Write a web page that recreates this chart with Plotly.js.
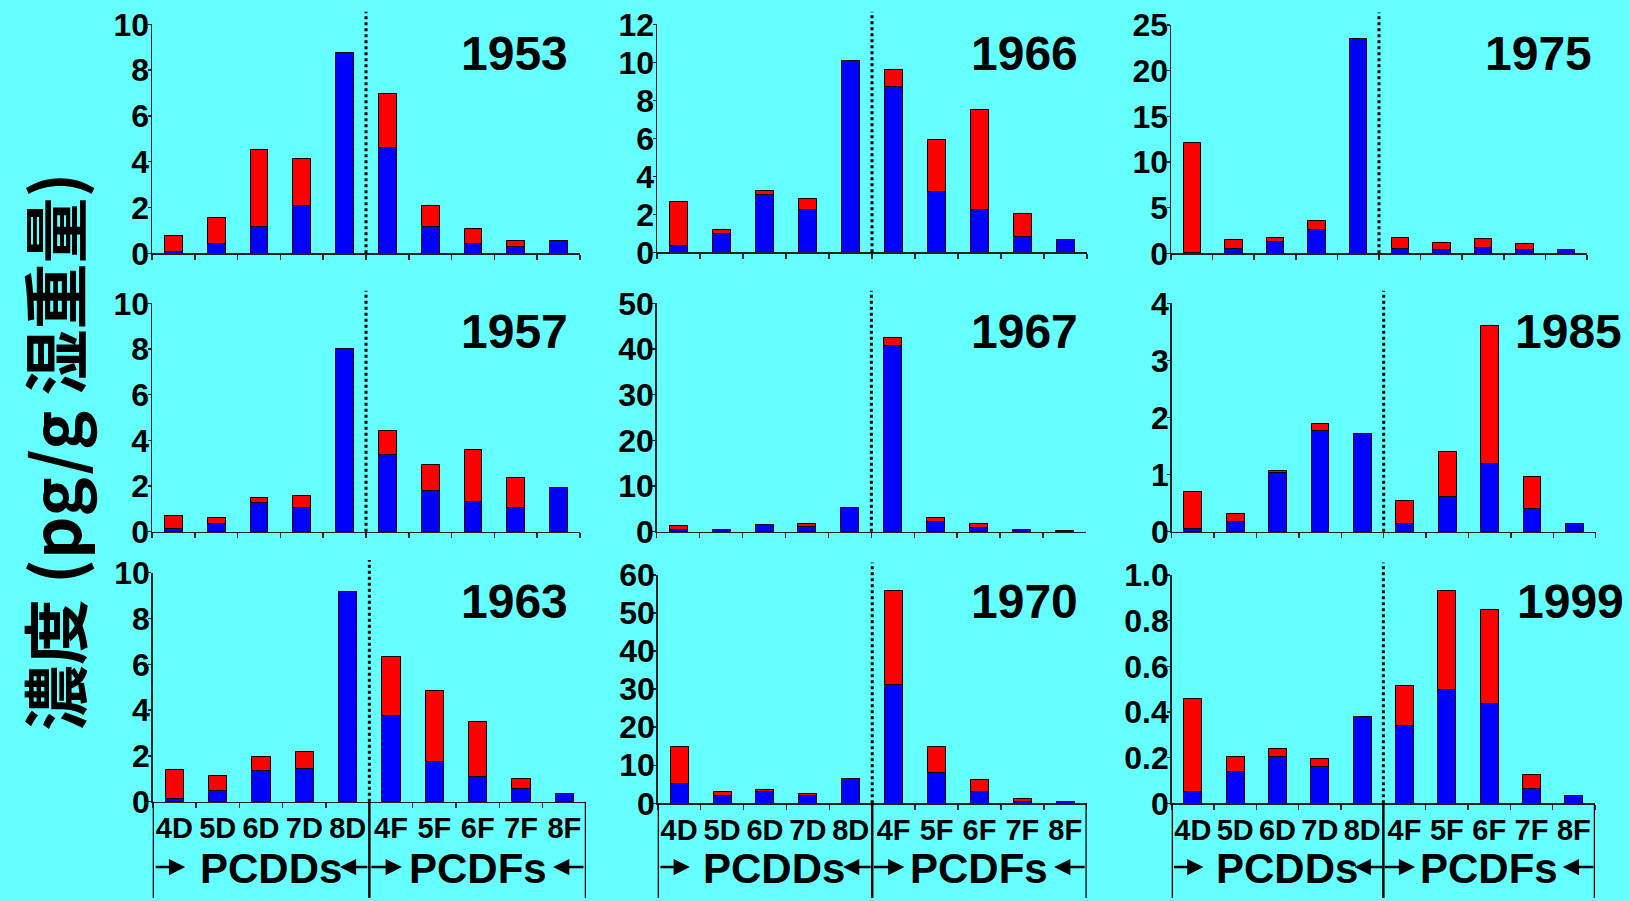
<!DOCTYPE html>
<html>
<head>
<meta charset="utf-8">
<script src="https://cdn.plot.ly/plotly-3.0.1.min.js"></script>
<style>
html,body{margin:0;padding:0;background:#66FFFF;}
#chart{width:1630px;height:901px;}
</style>
</head>
<body>
<div id="chart"></div>
<script>
// ---------- DATA ----------
const categories = ['4D','5D','6D','7D','8D','4F','5F','6F','7F','8F'];
const years = ['1953','1966','1975','1957','1967','1985','1963','1970','1999'];

// blue = lower segment, red = upper segment (pg/g wet weight)
const blue1953 = [0.10,0.42,1.18,2.08,8.78,4.64,1.18,0.45,0.31,0.54];
const red1953  = [0.69,1.15,3.36,2.04,0,2.36,0.90,0.64,0.23,0];
const blue1966 = [0.37,1.00,3.02,2.26,10.07,8.75,3.21,2.26,0.84,0.68];
const red1966  = [2.33,0.21,0.21,0.58,0,0.88,2.72,5.25,1.18,0];
const blue1975 = [0.05,0.50,1.28,2.63,23.47,0.51,0.47,0.66,0.47,0.44];
const red1975  = [12.03,0.96,0.44,0.91,0,1.21,0.66,0.91,0.55,0];
const blue1957 = [0.15,0.36,1.30,1.07,8.03,3.40,1.82,1.34,1.07,1.94];
const red1957  = [0.54,0.27,0.20,0.51,0,1.04,1.11,2.27,1.32,0];
const blue1967 = [0.58,0.51,1.61,1.09,5.26,40.8,2.26,0.95,0.51,0.36];
const red1967  = [0.73,0,0,0.73,0,1.70,0.88,0.87,0,0];
const blue1985 = [0.06,0.18,1.03,1.78,1.72,0.15,0.62,1.20,0.41,0.15];
const red1985  = [0.65,0.14,0.04,0.11,0,0.39,0.79,2.41,0.55,0];
const blue1963 = [0.13,0.49,1.35,1.46,9.17,3.77,1.76,1.11,0.58,0.36];
const red1963  = [1.28,0.66,0.64,0.74,0,2.58,3.10,2.40,0.42,0];
const blue1970 = [5.08,1.93,3.15,1.93,6.57,31.26,8.14,3.15,0.53,0.35];
const red1970  = [9.98,1.22,0.44,0.61,0,24.54,6.92,3.15,0.70,0];
const blue1999 = [0.051,0.140,0.207,0.162,0.382,0.339,0.500,0.439,0.067,0.032];
const red1999  = [0.409,0.064,0.034,0.035,0,0.178,0.433,0.409,0.059,0];

const blueSeries = [blue1953,blue1966,blue1975,blue1957,blue1967,blue1985,blue1963,blue1970,blue1999];
const redSeries  = [red1953,red1966,red1975,red1957,red1967,red1985,red1963,red1970,red1999];

// y axis tick labels per panel
const yTicks = [
  ['0','2','4','6','8','10'],
  ['0','2','4','6','8','10','12'],
  ['0','5','10','15','20','25'],
  ['0','2','4','6','8','10'],
  ['0','10','20','30','40','50'],
  ['0','1','2','3','4'],
  ['0','2','4','6','8','10'],
  ['0','10','20','30','40','50','60'],
  ['0','0.2','0.4','0.6','0.8','1.0']
];
const groupLabels = ['PCDDs','PCDFs'];
const yTitle = '濃度 (pg/g 湿重量)';

// ---------- LAYOUT GEOMETRY (px) ----------
const W = 1630, H = 901;
const GEOM = [
  [152,580,24.3,253.3],
  [657,1087,24.3,252.3],
  [1171,1587,25,253.3],
  [152,580,303.3,531.7],
  [656.7,1086,303.3,531.7],
  [1171.7,1595.7,303.3,531.7],
  [152.7,586,572.7,801.7],
  [657.7,1086.7,575,803.3],
  [1171.7,1595,575,803.3]
];
const YEAR_POS = [
  [570,53],[1080,53],[1594,53],
  [570,331.7],[1080,331.7],[1624,331.7],
  [570,601.7],[1080,601.7],[1626,601.7]
];
const FONT = 'Liberation Sans, Arial, sans-serif';
const BLUE = '#0000FF', RED = '#FF0000', BG = '#66FFFF';

const traces = [];
const layout = {
  width: W, height: H,
  margin: {l:0,r:0,t:0,b:0},
  paper_bgcolor: BG, plot_bgcolor: BG,
  showlegend: false,
  barmode: 'stack',
  bargap: 0.58,
  shapes: [], annotations: []
};

for (let i = 0; i < 9; i++) {
  const n = i + 1;
  const xa = 'x' + (n === 1 ? '' : n);
  const ya = 'y' + (n === 1 ? '' : n);
  const g = GEOM[i];
  traces.push({
    type:'bar', x: categories, y: blueSeries[i], xaxis: xa, yaxis: ya,
    marker:{color:BLUE, line:{color:'#000', width:1}}, hoverinfo:'skip'
  });
  traces.push({
    type:'bar', x: categories, y: redSeries[i], xaxis: xa, yaxis: ya,
    marker:{color:RED, line:{color:'#000', width:1}}, hoverinfo:'skip'
  });
  const tickText = yTicks[i];
  const tickVals = tickText.map(Number);
  const bottomRow = i >= 6;
  layout['xaxis' + (n === 1 ? '' : n)] = {
    domain: [g[0]/W, g[1]/W],
    anchor: ya,
    type: 'category',
    categoryorder: 'array', categoryarray: categories,
    range: [-0.5, 9.5],
    showline: true, linecolor: '#222', linewidth: 1.5,
    ticks: 'outside', tickson: 'boundaries', ticklen: 5, tickcolor: '#222', tickwidth: 1.5,
    showticklabels: bottomRow,
    tickangle: 0,
    tickfont: {family: FONT, size: 29, weight: 'bold', color: '#000'},
    showgrid: false, zeroline: false, fixedrange: true
  };
  layout['yaxis' + (n === 1 ? '' : n)] = {
    domain: [1 - g[3]/H, 1 - g[2]/H],
    anchor: xa,
    range: [0, tickVals[tickVals.length - 1]],
    tickmode: 'array', tickvals: tickVals, ticktext: tickText,
    showline: true, linecolor: '#222', linewidth: 1.5,
    ticks: 'outside', ticklen: 3, tickcolor: '#222', tickwidth: 1.5,
    tickfont: {family: FONT, size: 32, weight: 'bold', color: '#000'},
    ticklabelstandoff: -8,
    showgrid: false, zeroline: false, fixedrange: true
  };
  // dotted divider between PCDDs and PCDFs
  layout.shapes.push({
    type:'line', xref: xa, yref: ya + ' domain',
    x0: 4.5, x1: 4.5, y0: 0, y1: 1.055,
    line: {color:'#000', width:3, dash:'dot'}
  });
  // year label
  layout.annotations.push({
    xref:'paper', yref:'paper',
    x: YEAR_POS[i][0]/W, y: 1 - YEAR_POS[i][1]/H,
    xanchor:'right', yanchor:'middle', showarrow:false,
    text: years[i],
    font: {family: FONT, size: 48, weight: 'bold', color:'#000'}
  });
  if (bottomRow) {
    const yb0 = 1 - g[3]/H, yb1 = 1 - 898/H;
    [-0.5, 4.5, 9.5].forEach(xv => {
      layout.shapes.push({
        type:'line', xref: xa, yref:'paper',
        x0: xv, x1: xv, y0: yb0, y1: yb1,
        line: {color:'#000', width:2.5}
      });
    });
    const ay = 1 - 867/H;
    const arrows = [[0.25,-31],[3.82,29],[5.25,-32],[8.74,32]];
    arrows.forEach(a => {
      layout.annotations.push({
        xref: xa, yref:'paper', x: a[0], y: ay,
        ax: a[1], ay: 0, text:'', showarrow:true,
        arrowhead:2, arrowsize:1.3, arrowwidth:2.5, arrowcolor:'#000', standoff:0
      });
    });
    layout.annotations.push({
      xref: xa, yref:'paper', x: 2.22, y: 1 - 868/H,
      xanchor:'center', yanchor:'middle', showarrow:false,
      text: groupLabels[0], font:{family: FONT, size: 42, weight:'bold', color:'#000'}
    });
    layout.annotations.push({
      xref: xa, yref:'paper', x: 7.0, y: 1 - 868/H,
      xanchor:'center', yanchor:'middle', showarrow:false,
      text: groupLabels[1], font:{family: FONT, size: 42, weight:'bold', color:'#000'}
    });
  }
}

// y-axis title
layout.annotations.push({
  xref:'paper', yref:'paper', x: 52/W, y: 1 - 452/H,
  xanchor:'center', yanchor:'middle', showarrow:false, textangle:-90,
  text: yTitle,
  font:{family:'Noto Sans CJK JP, sans-serif', size: 66, weight:'bold', color:'#000'}
});

Plotly.newPlot('chart', traces, layout, {staticPlot:true, displayModeBar:false});
</script>
</body>
</html>
